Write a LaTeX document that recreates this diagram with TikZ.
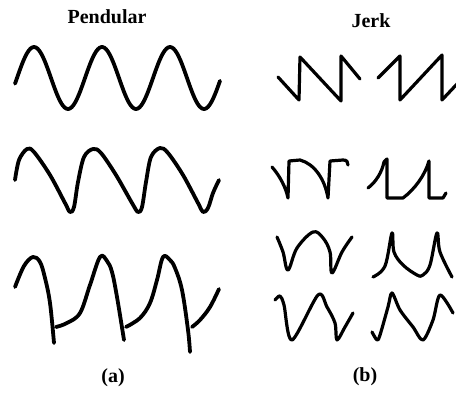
\documentclass[tikz,border=0pt]{standalone}
\usepackage{fontspec}
\setmainfont{Liberation Serif}
\usetikzlibrary{positioning}

\begin{document}
\begin{tikzpicture}[
		x=1pt, y=-1pt,
		wave/.style={line width=3.8pt, line cap=round, line join=round},
		jerkwave/.style={line width=3.2pt, line cap=round, line join=round},
		caption/.style={font=\fontsize{20}{24}\selectfont\bfseries, inner sep=0pt},
	]
	\useasboundingbox (0,0) rectangle (456,393);

	\node[caption, anchor=base] (pend) at (107,24) {Pendular};
	\node[caption, anchor=base] (jerk) at (371,28) {Jerk};
	\node[caption] (lbla) at (113,378) {(a)};
	\node[caption] (lblb) at (365,377) {(b)};

	% pendular
	\draw[wave] plot[domain=15:220, samples=120] (\x, {78-31*sin(5.2941*(\x-17))});
	\draw[wave] plot[smooth, tension=0.55] coordinates {(15,180) (19,160) (27,149) (34,152) (50,175) (65,203) (70,212) (74,207) (78,182) (84,157) (93,149) (101,153) (116,175) (132,203) (138,212) (142,207) (146,182) (151,157) (160,148) (168,153) (183,175) (198,203) (203,212) (208,208) (213,193) (219,180)};
	\draw[wave] plot[smooth, tension=0.6] coordinates {(15,287) (24,266) (33,257) (40,262) (45,278) (50,303) (54,343)};
	\draw[wave] plot[smooth, tension=0.6] coordinates {(56,327) (67,323) (80,313) (90,285) (100,257) (107,261) (112,272) (117,297) (124,340)};
	\draw[wave] plot[smooth, tension=0.6] coordinates {(126,327) (140,318) (150,303) (157,280) (163,257) (170,260) (175,268) (182,290) (188,330) (190,352)};
	\draw[wave] plot[smooth, tension=0.6] coordinates {(192,327) (200,320) (210,307) (219,289)};

	% jerk
	\draw[jerkwave] (278,77) -- (299,100) -- (300,57) -- (341,101) -- (341,56) -- (360,79);
	\draw[jerkwave] (378,78) -- (400,56) -- (400,100) -- (442,55) -- (442,100) -- (457,84);

	\draw[jerkwave] (272,167) .. controls (280,176) and (286,188) .. (288,198) -- (289,161) -- (300,160) .. controls (315,164) and (325,180) .. (328,198) -- (330,161) -- (343,160) .. controls (347,160) and (348,162) .. (348,165);
	\draw[jerkwave] (368,188) .. controls (376,182) and (382,172) .. (384,162) -- (387,159) -- (387,198) -- (403,198) .. controls (415,189) and (425,175) .. (429,161) -- (429,198) -- (443,198) -- (446,193);

	\draw[jerkwave] plot[smooth, tension=0.6] coordinates {(277,237) (283,252) (288,270) (297,248) (313,232) (323,238) (330,252) (332,273) (342,252) (352,237)};
	\draw[jerkwave] plot[smooth, tension=0.6] coordinates {(373,277) (385,266) (392,233) (394,252) (403,265) (417,275) (423,275) (430,265) (437,233) (440,252) (452,277)};

	\draw[jerkwave] plot[smooth, tension=0.5] coordinates {(275,300) (280,296) (284,305) (292,340) (318,295) (327,307) (335,323) (337,340) (345,327) (353,313)};
	\draw[jerkwave] plot[smooth, tension=0.5] coordinates {(372,332) (377,340) (380,335) (388,307) (392,293) (400,310) (413,327) (423,340) (433,320) (440,295) (453,313)};
\end{tikzpicture}
\end{document}
